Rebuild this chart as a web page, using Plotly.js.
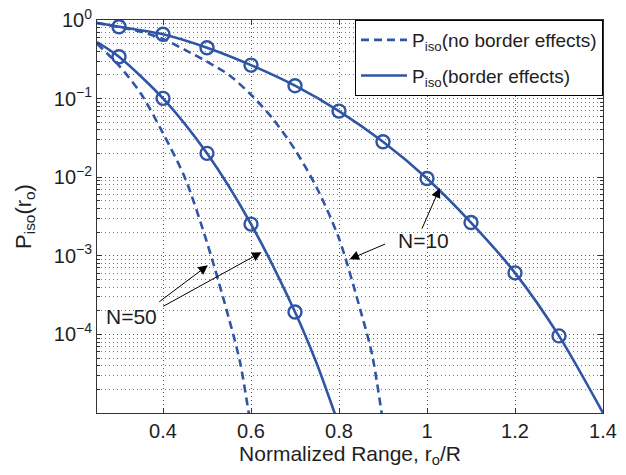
<!DOCTYPE html>
<html>
<head>
<meta charset="utf-8">
<script src="https://cdn.plot.ly/plotly-3.0.1.min.js"></script>
<style>
html,body{margin:0;padding:0;background:#fff;}
#chart{width:626px;height:475px;}
</style>
</head>
<body>
<div id="chart"></div>
<script>
// N = 10, with border effects (solid, circles at 0.3 ... 1.3)
const rN10Border = [0.25, 0.3, 0.4, 0.5, 0.6, 0.7, 0.8, 0.9, 1.0, 1.1, 1.2, 1.3, 1.4];
const pN10Border = [0.925, 0.822, 0.658, 0.444, 0.267, 0.146, 0.0693, 0.0282, 0.00964, 0.00265, 6.07e-4, 9.57e-5, 1.0e-5];
// N = 10, no border effects (dashed)
const rN10NoBorder = [0.25, 0.3, 0.35, 0.4, 0.45, 0.5, 0.55, 0.6, 0.65, 0.7, 0.75, 0.8, 0.85, 0.875, 0.9];
const pN10NoBorder = [0.912, 0.813, 0.708, 0.575, 0.417, 0.295, 0.200, 0.112, 0.0550, 0.0224, 0.00724, 0.00166, 1.91e-4, 5.62e-5, 7.6e-6];
// N = 50, with border effects (solid, circles at 0.3 ... 0.7)
const rN50Border = [0.25, 0.3, 0.4, 0.5, 0.6, 0.7, 0.75, 0.79, 0.8];
const pN50Border = [0.525, 0.341, 0.1007, 0.0201, 0.00253, 1.93e-4, 4.17e-5, 1.0e-5, 6.9e-6];
// N = 50, no border effects (dashed)
const rN50NoBorder = [0.25, 0.3, 0.35, 0.4, 0.45, 0.5, 0.55, 0.575, 0.595, 0.6];
const pN50NoBorder = [0.50, 0.263, 0.115, 0.0363, 0.00977, 0.00148, 1.58e-4, 4.47e-5, 1.0e-5, 7.0e-6];

const yTickVals = [1e-4, 1e-3, 1e-2, 1e-1, 1];
const yTickText = ['10<sup>−4</sup>', '10<sup>−3</sup>', '10<sup>−2</sup>', '10<sup>−1</sup>', '10<sup>0</sup>'];
const legendNoBorder = 'P<sub>iso</sub>(no border effects)';
const legendBorder = 'P<sub>iso</sub>(border effects)';

const blue = '#2F55A6';
const FONT = 'Liberation Sans, Arial, Helvetica, sans-serif';
const TXT = '#1e1e1e';

function markerSubset(xs, ys) {
  const mx = [], my = [];
  xs.forEach((x, i) => { if (x >= 0.29 && x <= 1.31 && Math.abs(x * 10 - Math.round(x * 10)) < 1e-6) { mx.push(x); my.push(ys[i]); } });
  return {x: mx, y: my};
}
const m10 = markerSubset(rN10Border, pN10Border);
const m50 = markerSubset(rN50Border, pN50Border);

const lineSolid = {color: blue, width: 2.6, shape: 'spline', smoothing: 0.8};
const lineDash = {color: blue, width: 2.6, dash: '8px,5px', shape: 'spline', smoothing: 0.8};
const mk = {symbol: 'circle-open', size: 13, color: blue, line: {color: blue, width: 2.4}};

const traces = [
  {x: rN10NoBorder, y: pN10NoBorder, mode: 'lines', line: lineDash, name: legendNoBorder, showlegend: true, legendgroup: 'a'},
  {x: rN10Border, y: pN10Border, mode: 'lines', line: lineSolid, name: legendBorder, showlegend: true, legendgroup: 'b'},
  {x: rN50NoBorder, y: pN50NoBorder, mode: 'lines', line: lineDash, showlegend: false},
  {x: rN50Border, y: pN50Border, mode: 'lines', line: lineSolid, showlegend: false},
  {x: m10.x, y: m10.y, mode: 'markers', marker: mk, showlegend: false},
  {x: m50.x, y: m50.y, mode: 'markers', marker: mk, showlegend: false}
];

const minorVals = [];
for (let d = -5; d < 0; d++) for (let m = 2; m <= 9; m++) minorVals.push(m * Math.pow(10, d));

const arrowBase = {xref: 'x', yref: 'y', axref: 'x', ayref: 'y', showarrow: true, arrowhead: 2, arrowsize: 1.9, arrowwidth: 1, arrowcolor: '#000', text: '', standoff: 0};

const layout = {
  width: 626, height: 475,
  margin: {l: 97, r: 23, t: 20, b: 62},
  paper_bgcolor: '#fff', plot_bgcolor: '#fff',
  font: {family: FONT, size: 20, color: TXT},
  showlegend: true,
  legend: {x: 1, xanchor: 'right', y: 1, yanchor: 'top', bgcolor: '#fff', bordercolor: '#000', borderwidth: 1,
           font: {family: FONT, size: 19, color: TXT}, tracegroupgap: 8, itemwidth: 46},
  xaxis: {
    range: [0.25, 1.4], tick0: 0, dtick: 0.2,
    showline: true, linecolor: '#333', linewidth: 1, mirror: 'ticks',
    ticks: 'inside', ticklen: 5, tickcolor: '#333',
    showgrid: true, gridcolor: '#555', griddash: '1px,3px', gridwidth: 1,
    zeroline: false,
    tickfont: {family: FONT, size: 20, color: TXT},
    title: {text: 'Normalized Range, r<sub>o</sub>/R', font: {family: FONT, size: 21, color: TXT}, standoff: 4}
  },
  yaxis: {
    type: 'log', range: [-5, 0],
    tickvals: yTickVals, ticktext: yTickText,
    showline: true, linecolor: '#333', linewidth: 1, mirror: 'ticks',
    ticks: 'inside', ticklen: 5, tickcolor: '#333',
    showgrid: true, gridcolor: '#555', griddash: '1px,3px', gridwidth: 1,
    zeroline: false,
    minor: {tickvals: minorVals, ticks: 'inside', ticklen: 3, tickcolor: '#333', showgrid: true, gridcolor: '#777', griddash: '1px,3px', gridwidth: 1},
    tickfont: {family: FONT, size: 20, color: TXT},
    title: {text: 'P<sub>iso</sub>(r<sub>o</sub>)', font: {family: FONT, size: 22, color: TXT}, standoff: 16}
  },
  annotations: [
    Object.assign({}, arrowBase, {x: 1.029, y: -2.139, ax: 0.987, ay: -2.674}),
    Object.assign({}, arrowBase, {x: 0.824, y: -3.043, ax: 0.908, ay: -2.843}),
    {xref: 'x', yref: 'y', x: 0.93, y: -2.81, xanchor: 'left', yanchor: 'middle', text: 'N=10', showarrow: false, font: {family: FONT, size: 21, color: TXT}},
    Object.assign({}, arrowBase, {x: 0.502, y: -3.12, ax: 0.388, ay: -3.60}),
    Object.assign({}, arrowBase, {x: 0.624, y: -2.954, ax: 0.397, ay: -3.654}),
    {xref: 'x', yref: 'y', x: 0.265, y: -3.77, xanchor: 'left', yanchor: 'middle', text: 'N=50', showarrow: false, font: {family: FONT, size: 21, color: TXT}}
  ]
};

Plotly.newPlot('chart', traces, layout, {staticPlot: true, displayModeBar: false});
</script>
</body>
</html>
